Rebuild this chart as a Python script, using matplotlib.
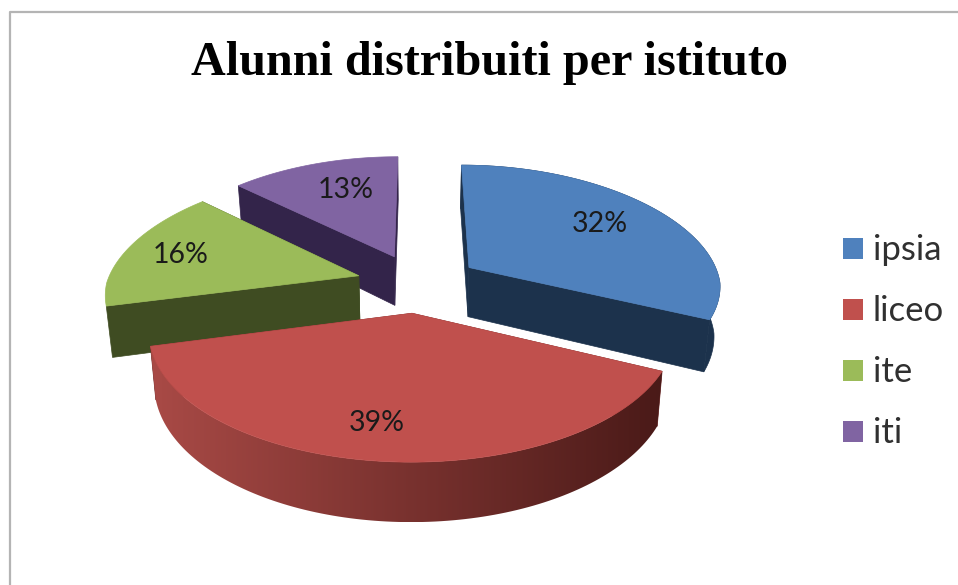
import matplotlib
matplotlib.use('Agg')

import matplotlib.pyplot as plt
import numpy as np
from matplotlib.colors import LinearSegmentedColormap
from matplotlib.patches import Polygon, Rectangle

# Data
labels = ['ipsia', 'liceo', 'ite', 'iti']
values = [32, 39, 16, 13]

# Styles
top_colors = ['#4f81bd', '#c0504d', '#9bbb59', '#8064a2']
wall_colors = ['#1c324c', '#6e2a28', '#3f4c22', '#33244a']
grad_left = '#a94a46'
grad_right = '#4a1a18'
label_frac = [0.66, 0.72, 0.74, 0.58]
label_shift = [(4, -4), (-15, 8), (-7, 0), (1, -11)]

# Pie geometry, in pixels of the picture
CX, CY = 418, 283
RX, RY = 252, 120
EXPLODE = 0.245
PERSP = 0.134
BACK_NARROW = 0.035
DEPTH = 50
SHRINK = 0.02  # vertical edges lean inward going down
EDGE = 0.5


def project(u, v, z=0.0):
    """Map pie plane coordinates to the picture, nearer points get larger"""
    v = np.asarray(v)
    s = 1.0 / (1.0 + PERSP * v)
    narrow = 1 - BACK_NARROW * np.maximum(v, 0)
    x = CX + RX * np.asarray(u) * s * narrow * (1 - SHRINK * z)
    return x, CY - RY * v * s + z * DEPTH * s


def ring(a0, a1, apex, n=120):
    """Points of an arc, angles in radians clockwise from 12 o'clock"""
    ang = np.linspace(a0, a1, n)
    return apex[0] + np.sin(ang), apex[1] + np.cos(ang)


def wall_outline(us, vs):
    """Outline of the wall that hangs under a run of plane points"""
    xt, yt = project(us, vs)
    xb, yb = project(us, vs, 1)
    return np.column_stack([np.concatenate([xt, xb[::-1]]), np.concatenate([yt, yb[::-1]])])


fig = plt.figure(figsize=(9.58, 5.85), dpi=100)
ax = fig.add_axes([0, 0, 1, 1])
ax.axis('off')

# Chart frame, cropped by the picture on the right and at the bottom
ax.plot([10.5, 10.5, 960], [590, 11.5, 11.5], color='#b4b4b4', linewidth=1.6, zorder=1)

ax.text(490, 63, 'Alunni distribuiti per istituto', family='Liberation Serif',
        fontweight='bold', fontsize=34.7, ha='center', va='center', color='#000000')

fractions = np.array(values) / sum(values)
edges = np.concatenate([[0], np.cumsum(fractions)]) * 2 * np.pi
wall_cmap = LinearSegmentedColormap.from_list('wall', [grad_left, grad_right])

# Back slices first, the big front slice last
order = [3, 2, 0, 1]
for rank, i in enumerate(order):
    a0, a1 = edges[i], edges[i + 1]
    mid = (a0 + a1) / 2
    apex = (EXPLODE * np.sin(mid), EXPLODE * np.cos(mid))
    z = 10 + rank * 2
    us, vs = ring(a0, a1, apex)

    # Flat cut walls
    for end in (0, -1):
        cut_u = np.array([apex[0], us[end]])
        cut_v = np.array([apex[1], vs[end]])
        ax.add_patch(Polygon(wall_outline(cut_u, cut_v), closed=True, facecolor=wall_colors[i],
                             edgecolor=wall_colors[i], linewidth=EDGE, zorder=z))

    # Round wall, only the red one carries a gradient
    outline = wall_outline(us, vs)
    if i == 1:
        clip = Polygon(outline, closed=True, transform=ax.transData, facecolor='none', edgecolor='none')
        ax.add_patch(clip)
        shade = np.linspace(0, 1, 256).reshape(1, -1)
        img = ax.imshow(shade, cmap=wall_cmap, aspect='auto', zorder=z,
                        extent=[outline[:, 0].min(), outline[:, 0].max(),
                                outline[:, 1].max(), outline[:, 1].min()])
        img.set_clip_path(clip)
    elif i == 0:
        ax.add_patch(Polygon(outline, closed=True, facecolor=wall_colors[i],
                             edgecolor=wall_colors[i], linewidth=EDGE, zorder=z))

    # Top face
    x, y = project(np.concatenate([[apex[0]], us]), np.concatenate([[apex[1]], vs]))
    ax.add_patch(Polygon(np.column_stack([x, y]), closed=True, facecolor=top_colors[i],
                         edgecolor=top_colors[i], linewidth=EDGE, zorder=z + 1))

    # Percent label
    f = label_frac[i]
    tx, ty = project(apex[0] + f * np.sin(mid), apex[1] + f * np.cos(mid))
    ax.text(tx + label_shift[i][0], ty + label_shift[i][1], f'{values[i]}%', family='Lato',
            fontsize=20.5, ha='center', va='center', color='#1a1a1a', zorder=40)

# Legend
for i, name in enumerate(labels):
    ly = 248 + i * 61
    ax.add_patch(Rectangle((843, ly - 10), 20.5, 20.5, facecolor=top_colors[i], edgecolor='none', zorder=5))
    ax.text(873, ly + 2, name, family='Lato', fontsize=25, ha='left', va='center', color='#303030')

ax.set_xlim(0, 958)
ax.set_ylim(585, 0)

fig.savefig('out.png', dpi=100)
plt.close('all')
